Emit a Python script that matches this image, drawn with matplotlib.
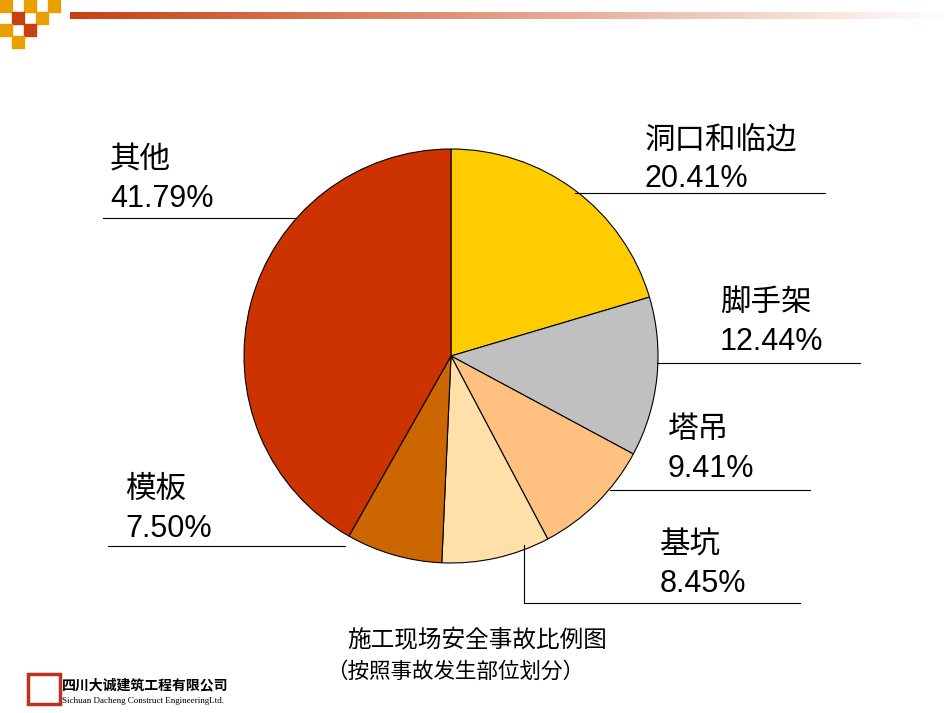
import matplotlib
matplotlib.use("Agg")
import matplotlib.pyplot as plt
from matplotlib import font_manager
import numpy as np
from matplotlib.patches import Rectangle
from matplotlib.colors import LinearSegmentedColormap

cjk = None
for f in font_manager.fontManager.ttflist:
    if "CJK" in f.name and ("SC" in f.name or cjk is None):
        cjk = f.name
plt.rcParams['font.family'] = ['Liberation Sans', cjk] if cjk else ['Liberation Sans']

categories = ["洞口和临边", "脚手架", "塔吊", "基坑", "模板", "其他"]
values = [20.41, 12.44, 9.41, 8.45, 7.50, 41.79]
colors = ["#FFCC00", "#C0C0C0", "#FFC080", "#FFE0A8", "#CC6600", "#CC3300"]

fig = plt.figure(figsize=(9.5, 7.13), dpi=100)
ax = fig.add_axes([0, 0, 1, 1])

cx, cy, r = 451, 356, 207
ax.pie(values, colors=colors, startangle=-90, counterclock=True,
       center=(cx, cy), radius=r,
       wedgeprops=dict(edgecolor="black", linewidth=0.8))
ax.set_xlim(0, 950)
ax.set_ylim(713, 0)
ax.set_aspect("auto")
ax.axis("off")

grad = np.linspace(0, 1, 256).reshape(1, -1)
cm = LinearSegmentedColormap.from_list("g", ["#C84010", "#FFFFFF"])
ax.imshow(grad, cmap=cm, extent=(70, 950, 19, 12), aspect="auto", zorder=0)
sq = [(0, 0, "#E8A000"), (24, 0, "#E8A000"), (12, 12, "#C84010"),
      (36, 12, "#E8A000"), (0, 24, "#E8A000"), (24, 24, "#C84010"),
      (12, 36, "#E8A000"), (48, 0, "#E8A000")]
for x, y, c in sq:
    ax.add_patch(Rectangle((x, y), 12, 12, color=c, zorder=1))

fs = 22
labels = [
    (645, 140, "洞口和临边", "20.41%", [(575, 193), (825, 193)]),
    (720, 303, "脚手架", "12.44%", [(657, 363), (860, 363)]),
    (668, 430, "塔吊", "9.41%", [(610, 490), (810, 490)]),
    (660, 545, "基坑", "8.45%", [(524, 545), (524, 603), (800, 603)]),
    (125, 490, "模板", "7.50%", [(345, 546), (108, 546)]),
    (110, 160, "其他", "41.79%", [(295, 218), (103, 218)]),
]
for x, y, t1, t2, pts in labels:
    ax.text(x, y, t1, fontsize=fs, va="center", ha="left")
    ax.text(x, y + 39, t2, fontsize=fs, va="center", ha="left")
    xs, ys = zip(*pts)
    ax.plot(xs, ys, color="black", linewidth=0.8)

ax.text(477, 641, "施工现场安全事故比例图", fontsize=17, ha="center", va="center")
ax.text(455, 672, "（按照事故发生部位划分）", fontsize=15.5, ha="center", va="center")

ax.add_patch(Rectangle((28, 674), 32, 30, fill=False, edgecolor="#C03020", linewidth=2.5))
ax.text(62, 685, "四川大诚建筑工程有限公司", fontsize=10, fontweight="bold", va="center")
ax.text(62, 701, "Sichuan Dacheng Construct EngineeringLtd.", fontsize=6.5,
        family="Liberation Serif", va="center")

fig.savefig("out.png", dpi=100)
